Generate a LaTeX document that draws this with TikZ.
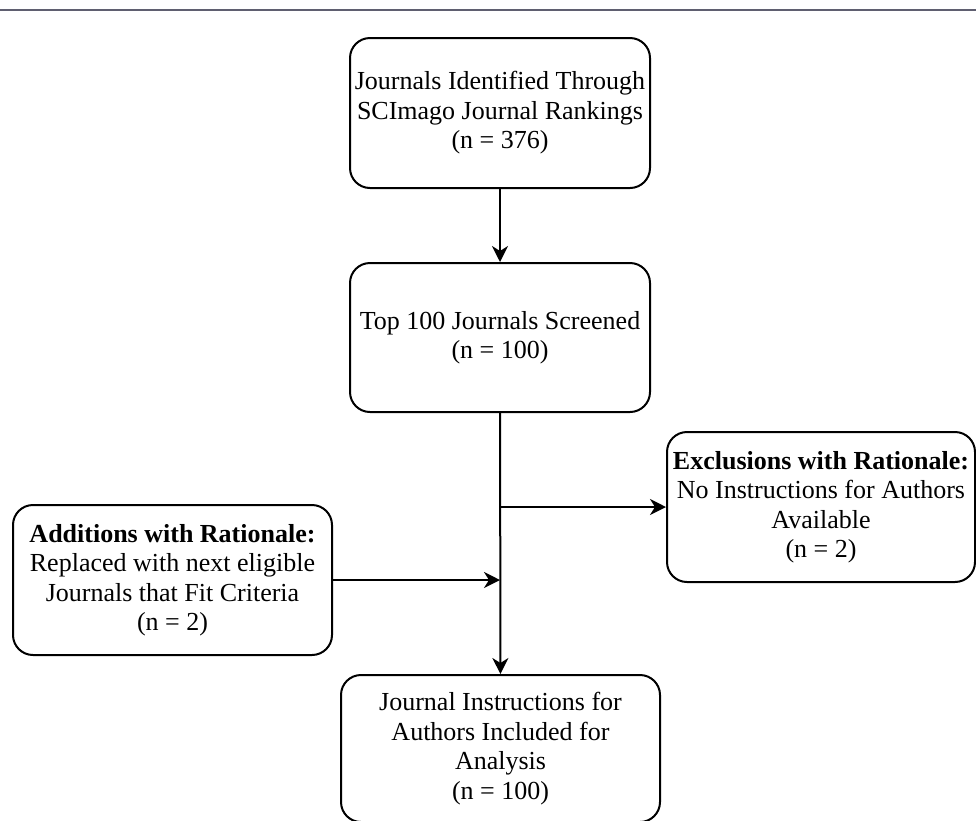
\documentclass[tikz,border=0pt]{standalone}
\usepackage{fontspec}
\setmainfont{Liberation Serif}
\usetikzlibrary{arrows.meta}
\definecolor{rulegray}{RGB}{95,95,112}
\tikzset{
  box/.style={draw, line width=2pt, rounded corners=20pt, align=center, inner sep=0pt, font=\fontsize{26}{29.5}\selectfont},
  flow/.style={line width=2pt, -{Stealth[length=16pt,width=16pt,inset=5pt]}}
}
\begin{document}
\begin{tikzpicture}[x=1pt,y=-1pt]
\useasboundingbox (0,0) rectangle (976,820);
\draw [line width=1.5pt, rulegray] (0,10) -- (976,10);
\node [box, minimum width=300pt, minimum height=150pt] (ident) at (500,113) {Journals Identified Through\\SCImago Journal Rankings\\(n = 376)};
\node [box, minimum width=300pt, minimum height=149pt] (screen) at (500,337.5) {Top 100 Journals Screened\\(n = 100)};
\node [box, minimum width=308pt, minimum height=150pt] (excl) at (821,507) {\textbf{Exclusions with Rationale:}\\No Instructions for Authors\\Available\\(n = 2)};
\node [box, minimum width=319pt, minimum height=150pt] (addit) at (172.5,580) {\textbf{Additions with Rationale:}\\Replaced with next eligible\\Journals that Fit Criteria\\(n = 2)};
\node [box, minimum width=319pt, minimum height=147pt] (incl) at (500.5,748.5) {Journal Instructions for\\Authors Included for\\Analysis\\(n = 100)};
\coordinate (jx) at (500,507);
\coordinate (ja) at (500,580);
\draw [flow] (ident) -- (screen);
\draw [flow] (screen) -- (incl);
\draw [flow] (jx) -- (excl);
\draw [flow] (addit) -- (ja);
\end{tikzpicture}
\end{document}
